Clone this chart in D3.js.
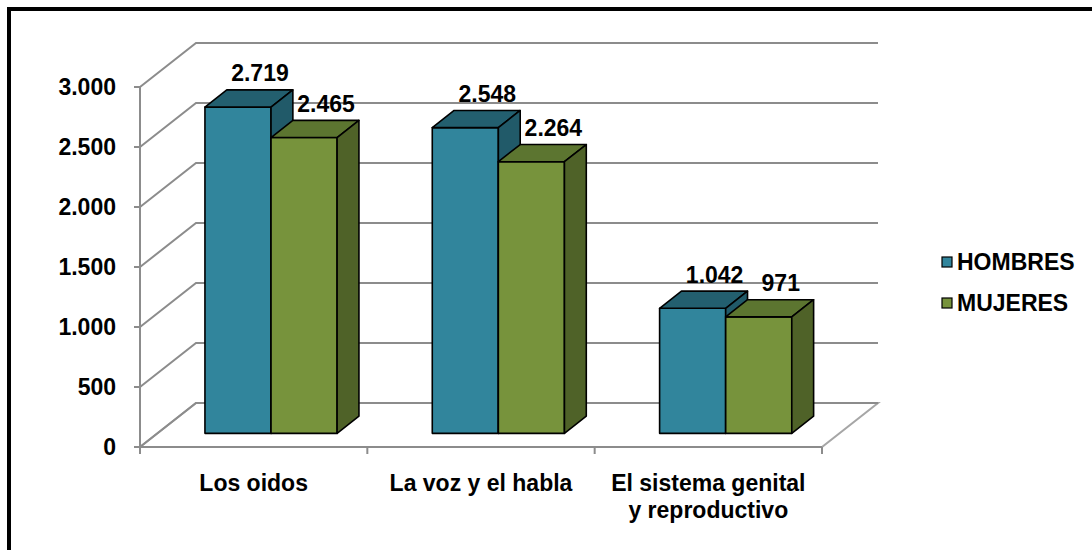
<!DOCTYPE html>
<html>
<head>
<meta charset="utf-8">
<script src="https://cdn.jsdelivr.net/npm/d3@7"></script>
<style>
  body { margin: 0; background: #fff; }
  text { font-family: "Liberation Sans", Arial, sans-serif; font-weight: bold; fill: #000; }
</style>
</head>
<body>
<svg id="chart" width="1092" height="550"></svg>
<script>
// Data
var categories = ["Los oidos", "La voz y el habla", "El sistema genital|y reproductivo"];
var seriesNames = ["HOMBRES", "MUJERES"];
var hombres = [2719, 2548, 1042];
var mujeres = [2465, 2264, 971];
var yTicks = [0, 500, 1000, 1500, 2000, 2500, 3000];

var svg = d3.select("#chart");
var fontSize = "23px";

// frame
svg.append("rect")
    .attr("x", 9).attr("y", 9)
    .attr("width", 1100).attr("height", 570)
    .attr("fill", "#fff")
    .attr("stroke", "#000")
    .attr("stroke-width", 4);

// 3d depth vector (full depth of the floor)
var depth = [56, -44];
var f0 = 0.31, f1 = 0.70;   // bar front / back as fraction of depth

var x = d3.scaleBand()
    .domain(categories)
    .range([140, 822]);

var xs = d3.scaleBand()
    .domain(seriesNames)
    .range([0, x.bandwidth()])
    .paddingOuter(0.72);

var y = d3.scaleLinear()
    .domain([0, 3000])
    .range([447, 87]);

var fmt = d3.formatLocale({ decimal: ",", thousands: ".", grouping: [3], currency: ["", ""] }).format(",");

var gridColor = "#8c8c8c";
var x0 = x.range()[0], x1 = x.range()[1];

// floor
svg.append("path")
    .attr("d", "M" + x0 + "," + y(0) + "L" + x1 + "," + y(0) +
        "L" + (x1 + depth[0]) + "," + (y(0) + depth[1]) +
        "L" + (x0 + depth[0]) + "," + (y(0) + depth[1]) + "Z")
    .attr("fill", "#fff")
    .attr("stroke", "#a6a6a6")
    .attr("stroke-width", 2);

// gridlines: left wall diagonals + back wall horizontals
var grid = svg.append("g").attr("stroke", gridColor).attr("stroke-width", 2).attr("fill", "none");
yTicks.forEach(function (t) {
    grid.append("path")
        .attr("d", "M" + x0 + "," + y(t) +
            "L" + (x0 + depth[0]) + "," + (y(t) + depth[1]) +
            "L" + (x1 + depth[0]) + "," + (y(t) + depth[1]));
});

// y axis line and ticks
svg.append("line")
    .attr("x1", x0).attr("x2", x0)
    .attr("y1", y(0)).attr("y2", y(3000))
    .attr("stroke", gridColor).attr("stroke-width", 2);

svg.append("g").selectAll("line")
    .data(yTicks).enter().append("line")
    .attr("x1", x0 - 6).attr("x2", x0)
    .attr("y1", function (d) { return y(d); })
    .attr("y2", function (d) { return y(d); })
    .attr("stroke", gridColor).attr("stroke-width", 2);

svg.append("g").selectAll("text")
    .data(yTicks).enter().append("text")
    .attr("x", 116)
    .attr("y", function (d) { return y(d); })
    .attr("dy", "0.36em")
    .attr("text-anchor", "end")
    .style("font-size", fontSize)
    .text(function (d) { return fmt(d); });

// x axis
svg.append("line")
    .attr("x1", x0).attr("x2", x1)
    .attr("y1", y(0)).attr("y2", y(0))
    .attr("stroke", gridColor).attr("stroke-width", 2);

var catTicks = categories.map(function (c) { return x(c); }).concat([x1]);
svg.append("g").selectAll("line")
    .data(catTicks).enter().append("line")
    .attr("x1", function (d) { return d; })
    .attr("x2", function (d) { return d; })
    .attr("y1", y(0)).attr("y2", y(0) + 7)
    .attr("stroke", gridColor).attr("stroke-width", 2);

var catLabels = svg.append("g").selectAll("text")
    .data(categories).enter().append("text")
    .attr("x", function (d) { return x(d) + x.bandwidth() / 2; })
    .attr("y", 491)
    .attr("text-anchor", "middle")
    .style("font-size", fontSize);
catLabels.each(function (d) {
    var lines = d.split("|");
    var t = d3.select(this);
    lines.forEach(function (l, i) {
        t.append("tspan")
            .attr("x", x(d) + x.bandwidth() / 2)
            .attr("dy", i === 0 ? 0 : 27)
            .text(l);
    });
});

// bars
var colors = {
    HOMBRES: { front: "#31859c", top: "#235f6f", side: "#215a69" },
    MUJERES: { front: "#77933c", top: "#5c7530", side: "#4f6228" }
};

var bars = [];
categories.forEach(function (c, i) {
    bars.push({ cat: c, s: "HOMBRES", v: hombres[i] });
    bars.push({ cat: c, s: "MUJERES", v: mujeres[i] });
});

var dx0 = depth[0] * f0, dy0 = depth[1] * f0;
var dx1 = depth[0] * (f1 - f0), dy1 = depth[1] * (f1 - f0);

var barG = svg.append("g").attr("stroke", "#000").attr("stroke-width", 1.6).attr("stroke-linejoin", "round");
bars.forEach(function (b) {
    var left = x(b.cat) + xs(b.s) + dx0;
    var right = left + xs.bandwidth();
    var bottom = y(0) + dy0;
    var top = y(b.v) + dy0;
    var c = colors[b.s];
    // front
    barG.append("path")
        .attr("d", "M" + left + "," + bottom + "L" + right + "," + bottom + "L" + right + "," + top + "L" + left + "," + top + "Z")
        .attr("fill", c.front);
    // top
    barG.append("path")
        .attr("d", "M" + left + "," + top + "L" + right + "," + top +
            "L" + (right + dx1) + "," + (top + dy1) + "L" + (left + dx1) + "," + (top + dy1) + "Z")
        .attr("fill", c.top);
    // side
    barG.append("path")
        .attr("d", "M" + right + "," + bottom + "L" + (right + dx1) + "," + (bottom + dy1) +
            "L" + (right + dx1) + "," + (top + dy1) + "L" + right + "," + top + "Z")
        .attr("fill", c.side);
});

// value labels
svg.append("g").selectAll("text")
    .data(bars).enter().append("text")
    .attr("x", function (d) { return x(d.cat) + xs(d.s) + dx0 + xs.bandwidth() / 2 + 22; })
    .attr("y", function (d) { return y(d.v) + dy0 - 34; })
    .attr("dy", "0.36em")
    .attr("text-anchor", "middle")
    .style("font-size", fontSize)
    .text(function (d) { return fmt(d.v); });

// legend
var legend = svg.append("g").attr("transform", "translate(942,262)");
seriesNames.forEach(function (s, i) {
    legend.append("rect")
        .attr("x", 0).attr("y", i * 41 - 5)
        .attr("width", 10).attr("height", 10)
        .attr("fill", colors[s].front)
        .attr("stroke", "#000").attr("stroke-width", 1.2);
    legend.append("text")
        .attr("x", 15).attr("y", i * 41)
        .attr("dy", "0.36em")
        .style("font-size", fontSize)
        .text(s);
});
</script>
</body>
</html>
